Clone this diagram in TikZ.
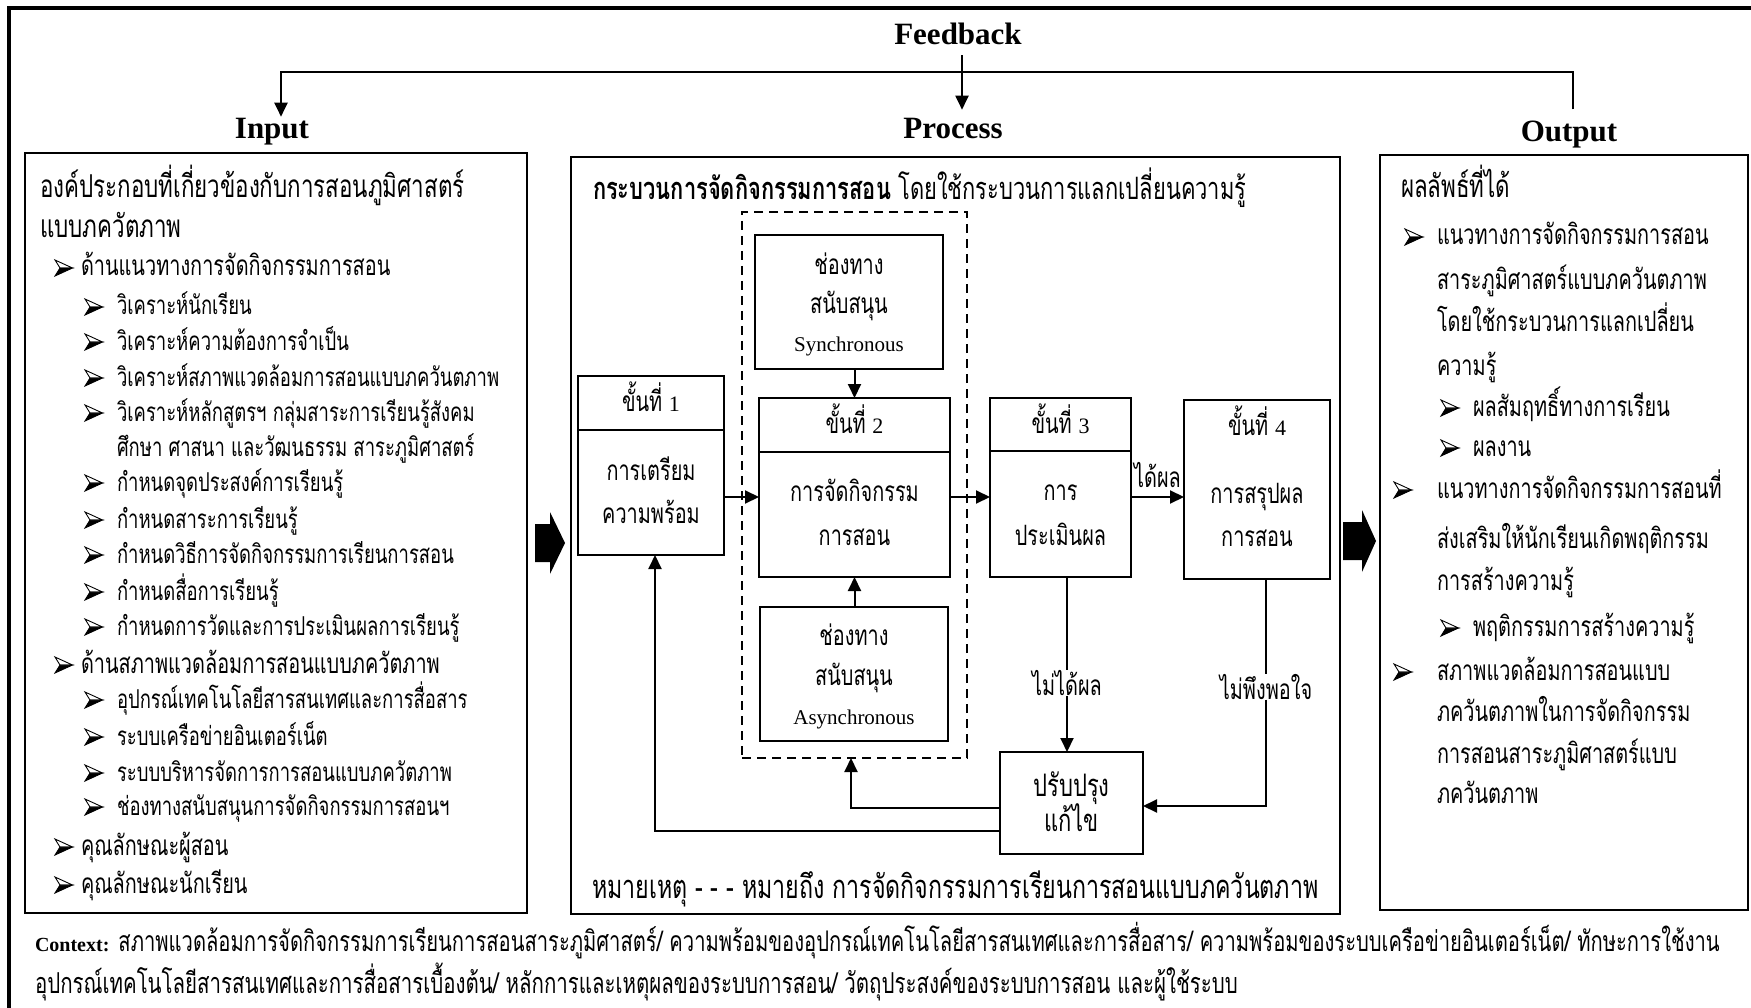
\documentclass[tikz,border=0pt]{standalone}
\usepackage{fontspec}
\setmainfont{Liberation Serif}
\newfontfamily\thaifont[Script=Thai,FakeStretch=0.71]{Loma}
\usetikzlibrary{arrows.meta}
% Thai text at a given size
\newcommand\thsize[1]{\thaifont\fontsize{#1}{#1}\selectfont}

\begin{document}
\begin{tikzpicture}[x=1pt,y=-1pt,
  every node/.style={inner sep=0pt,outer sep=0pt},
  hdr/.style={font=\bfseries\fontsize{31}{31}\selectfont,anchor=base},
  tx/.style={font=\thsize{28},anchor=base west},
  txs/.style={font=\thsize{26},anchor=base west},
  txh/.style={font=\thsize{31.5},anchor=base west},
  ctx/.style={font=\thsize{28},anchor=base},
  lat/.style={font=\fontsize{21}{21}\selectfont,anchor=base},
  panel/.style={draw,line width=2.2pt},
  stepbox/.style={draw,line width=2pt},
  chanbox/.style={draw,line width=2.8pt},
  arr/.style={line width=2pt,-{Triangle[length=14pt,width=13pt]}},
  plain/.style={line width=2pt},
  blockarrow/.style={fill=black},
  % list bullet: a notched arrowhead, light upper half and dark lower half
  bulletpic/.pic={
    \fill[black] (0,8) -- (17.5,0) -- (5,0) -- cycle;
    \draw[line width=0.9pt,fill=white,line join=miter] (0,-8) -- (17.5,0) -- (5,0) -- cycle;
    \draw[line width=0.9pt,line join=miter] (0,8) -- (17.5,0) -- (5,0) -- cycle;
  }
]
\useasboundingbox (0,0) rectangle (1751,1008);

% outer frame
\draw[line width=3.5pt] (9,1020) -- (9,8) -- (1765,8);

% headings
\node[hdr] (fb)   at (958,45)  {Feedback};
\node[hdr] (inp)  at (272,139) {Input};
\node[hdr] (proc) at (953,139) {Process};
\node[hdr] (outp) at (1569,142) {Output};

% feedback loop
\coordinate (fbL) at (281,72);
\coordinate (fbR) at (1573,72);
\coordinate (fbx) at (962,72);
\draw[arr,shorten <=12pt,shorten >=2pt] (outp.north -| fbR) -- (fbR) -- (fbL) -- (inp.north -| fbL);
\draw[arr,shorten <=10pt,shorten >=9pt] (fb.south -| fbx) -- (proc.north -| fbx);

% three panels
\node[panel,minimum width=502pt,minimum height=760pt] (inbox) at (276,533) {};
\node[panel,minimum width=769pt,minimum height=757pt] (pbox)  at (955.5,535.5) {};
\node[panel,minimum width=368pt,minimum height=755pt] (obox)  at (1564,532.5) {};

% block arrows between panels
\fill[blockarrow] (535,524) -- (550,524) -- (550,512) -- (565,543) -- (550,574) -- (550,562) -- (535,562) -- cycle;
\fill[blockarrow] (1343,522) -- (1362,522) -- (1362,510) -- (1376,541) -- (1362,572) -- (1362,560) -- (1343,560) -- cycle;

% ---------- Input panel ----------
\node[txh] (in1) at (40,198) {องค์ประกอบที่เกี่ยวข้องกับการสอนภูมิศาสตร์};
\node[txh] (in2) at (40,238) {แบบภควัตภาพ};
\foreach \yy/\lbl in {276/ด้านแนวทางการจัดกิจกรรมการสอน,
                      673/ด้านสภาพแวดล้อมการสอนแบบภควัตภาพ,
                      855/คุณลักษณะผู้สอน,
                      893/คุณลักษณะนักเรียน}{
  \pic at (55,\yy-8) {bulletpic};
  \node[tx]  (int\yy) at (81,\yy) {\lbl};
}
\foreach \yy/\lbl in {315/วิเคราะห์นักเรียน,
                      350/วิเคราะห์ความต้องการจำเป็น,
                      386/วิเคราะห์สภาพแวดล้อมการสอนแบบภควันตภาพ,
                      421/วิเคราะห์หลักสูตรฯ กลุ่มสาระการเรียนรู้สังคม,
                      491/กำหนดจุดประสงค์การเรียนรู้,
                      528/กำหนดสาระการเรียนรู้,
                      563/กำหนดวิธีการจัดกิจกรรมการเรียนการสอน,
                      600/กำหนดสื่อการเรียนรู้,
                      635/กำหนดการวัดและการประเมินผลการเรียนรู้,
                      708/อุปกรณ์เทคโนโลยีสารสนเทศและการสื่อสาร,
                      745/ระบบเครือข่ายอินเตอร์เน็ต,
                      781/ระบบบริหารจัดการการสอนแบบภควัตภาพ,
                      815/ช่องทางสนับสนุนการจัดกิจกรรมการสอนฯ}{
  \pic at (85,\yy-8) {bulletpic};
  \node[txs] (ist\yy) at (117,\yy) {\lbl};
}
\node[txs] (incont) at (117,456) {ศึกษา ศาสนา และวัฒนธรรม สาระภูมิศาสตร์};

% ---------- Process panel ----------
\node[tx,font=\thsize{30.8}] (ptitle) at (593,200) {{\bfseries กระบวนการจัดกิจกรรมการสอน} โดยใช้กระบวนการแลกเปลี่ยนความรู้};
\node[tx,font=\thsize{32.7}] (pnote)  at (592,898) {หมายเหตุ - - - หมายถึง การจัดกิจกรรมการเรียนการสอนแบบภควันตภาพ};

\node[draw,line width=2pt,dash pattern=on 9pt off 6pt,minimum width=225pt,minimum height=546pt] (dbox) at (854.5,485) {};

\node[chanbox,minimum width=188pt,minimum height=134pt] (sync)  at (849,302) {};
\node[ctx] (sync1) at (849,275) {ช่องทาง};
\node[ctx] (sync2) at (849,313) {สนับสนุน};
\node[lat] (sync3) at (849,352) {Synchronous};

\node[chanbox,minimum width=188pt,minimum height=134pt] (async) at (854,674) {};
\node[ctx] (async1) at (854,645) {ช่องทาง};
\node[ctx] (async2) at (854,685) {สนับสนุน};
\node[lat] (async3) at (854,724) {Asynchronous};

\node[stepbox,minimum width=146pt,minimum height=179pt] (s1) at (651,465.5) {};
\draw[line width=1.4pt] (s1.west |- 0,430) -- (s1.east |- 0,430);
\node[ctx] (s1h) at (651,411) {ขั้นที่ {\rmfamily\fontsize{22}{22}\selectfont 1}};
\node[ctx] (s1a) at (651,480) {การเตรียม};
\node[ctx] (s1b) at (651,523) {ความพร้อม};

\node[stepbox,minimum width=191pt,minimum height=179pt] (s2) at (854.5,487.5) {};
\draw[line width=1.4pt] (s2.west |- 0,452) -- (s2.east |- 0,452);
\node[ctx] (s2h) at (854.5,433) {ขั้นที่ {\rmfamily\fontsize{22}{22}\selectfont 2}};
\node[ctx] (s2a) at (854.5,501) {การจัดกิจกรรม};
\node[ctx] (s2b) at (854.5,545) {การสอน};

\node[stepbox,minimum width=141pt,minimum height=179pt] (s3) at (1060.5,487.5) {};
\draw[line width=1.4pt] (s3.west |- 0,451) -- (s3.east |- 0,451);
\node[ctx] (s3h) at (1060.5,433) {ขั้นที่ {\rmfamily\fontsize{22}{22}\selectfont 3}};
\node[ctx] (s3a) at (1060.5,500) {การ};
\node[ctx] (s3b) at (1060.5,545) {ประเมินผล};

\node[stepbox,minimum width=146pt,minimum height=179pt] (s4) at (1257,489.5) {};
\node[ctx] (s4h) at (1257,435) {ขั้นที่ {\rmfamily\fontsize{22}{22}\selectfont 4}};
\node[ctx] (s4a) at (1257,503) {การสรุปผล};
\node[ctx] (s4b) at (1257,546) {การสอน};

\node[chanbox,minimum width=143pt,minimum height=102pt] (rev) at (1071.5,803) {};
\node[ctx,font=\thsize{31}] (rev1) at (1071.5,796) {ปรับปรุง};
\node[ctx,font=\thsize{31}] (rev2) at (1071.5,831) {แก้ไข};

% main flow
\coordinate (row) at (0,497);
\draw[arr] (s1.east |- row) -- (s2.west |- row);
\draw[arr] (s2.east |- row) -- (s3.west |- row);
\draw[arr] (s3.east |- row) -- node[ctx,above=9pt] (ok) {ได้ผล} (s4.west |- row);
\draw[arr] (sync.south -| s2) -- (s2.north);
\draw[arr] (async.north -| s2) -- (s2.south);

% evaluation loops
\node[ctx,anchor=center] (nogood) at (1067,683) {ไม่ได้ผล};
\draw[plain] (s3.south -| nogood) -- (nogood.north);
\draw[arr] (nogood.south) -- (rev.north -| nogood);

\node[ctx,anchor=center] (unsat) at (1266,687) {ไม่พึงพอใจ};
\coordinate (c4) at (1266,806);
\draw[line width=1.3pt] (s4.south -| unsat) -- (unsat.north);
\draw[arr] (unsat.south) -- (c4) -- (rev.east |- c4);

\coordinate (c5) at (851,808);
\draw[arr] (rev.west |- c5) -- (c5) -- (dbox.south -| c5);
\coordinate (c6) at (655,831);
\draw[arr] (rev.west |- c6) -- (c6) -- (s1.south -| c6);

% ---------- Output panel ----------
\node[txh] (o1) at (1401,198) {ผลลัพธ์ที่ได้};
\pic at (1405,237) {bulletpic};
\node[tx] (o2) at (1437,245) {แนวทางการจัดกิจกรรมการสอน};
\node[tx] (o3) at (1437,290) {สาระภูมิศาสตร์แบบภควันตภาพ};
\node[tx] (o4) at (1437,331) {โดยใช้กระบวนการแลกเปลี่ยน};
\node[tx] (o5) at (1437,375) {ความรู้};
\pic at (1441,408) {bulletpic};
\node[tx] (o6) at (1473,416) {ผลสัมฤทธิ์ทางการเรียน};
\pic at (1441,448) {bulletpic};
\node[tx] (o7) at (1473,456) {ผลงาน};
\pic at (1394,490) {bulletpic};
\node[tx] (o8) at (1437,498) {แนวทางการจัดกิจกรรมการสอนที่};
\node[tx] (o9) at (1437,548) {ส่งเสริมให้นักเรียนเกิดพฤติกรรม};
\node[tx] (o10) at (1437,590) {การสร้างความรู้};
\pic at (1441,628) {bulletpic};
\node[tx] (o11) at (1473,636) {พฤติกรรมการสร้างความรู้};
\pic at (1394,672) {bulletpic};
\node[tx] (o12) at (1437,680) {สภาพแวดล้อมการสอนแบบ};
\node[tx] (o13) at (1437,721) {ภควันตภาพในการจัดกิจกรรม};
\node[tx] (o14) at (1437,763) {การสอนสาระภูมิศาสตร์แบบ};
\node[tx] (o15) at (1437,803) {ภควันตภาพ};

% ---------- Context ----------
\node[tx,font=\thsize{28.4}] (ctx1) at (35,951) {{\rmfamily\bfseries\fontsize{20}{20}\selectfont Context:} สภาพแวดล้อมการจัดกิจกรรมการเรียนการสอนสาระภูมิศาสตร์/ ความพร้อมของอุปกรณ์เทคโนโลยีสารสนเทศและการสื่อสาร/ ความพร้อมของระบบเครือข่ายอินเตอร์เน็ต/ ทักษะการใช้งาน};
\node[tx,font=\thsize{28.8}] (ctx2) at (35,993) {อุปกรณ์เทคโนโลยีสารสนเทศและการสื่อสารเบื้องต้น/ หลักการและเหตุผลของระบบการสอน/ วัตถุประสงค์ของระบบการสอน และผู้ใช้ระบบ};
\end{tikzpicture}
\end{document}
